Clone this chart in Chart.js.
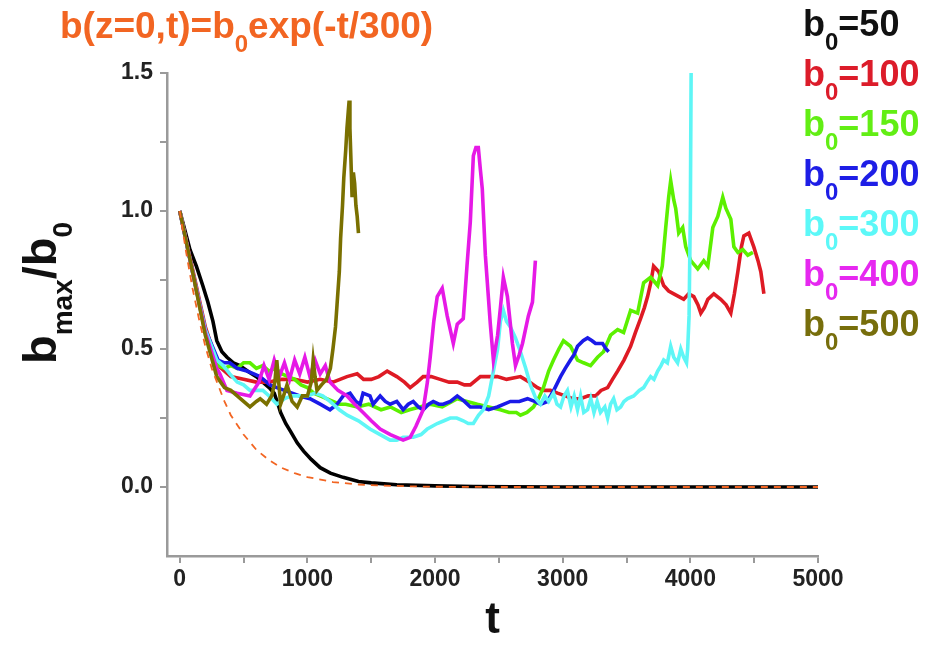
<!DOCTYPE html>
<html><head><meta charset="utf-8">
<script src="https://cdn.jsdelivr.net/npm/chart.js@4/dist/chart.umd.min.js"></script>
<style>html,body{margin:0;padding:0;background:#fff;}canvas{display:block}</style>
</head><body>
<canvas id="c" width="937" height="653"></canvas>
<script>
// ---- data ----
const legendValues = ['50','100','150','200','300','400','500'];
const xTickMarks = [0,500,1000,1500,2000,2500,3000,3500,4000,4500,5000];
const xTickLabels = [0,1000,2000,3000,4000,5000];
const yTickMarks = [0,0.25,0.5,0.75,1.0,1.25,1.5];
const yTickLabels = [0.0,0.5,1.0,1.5];

const ref_t = [0,50,100,150,200,250,300,350,400,500,600,700,800,900,1000,1200,1400,1600,1800,2000,2500,3000,4000,5000];
const ref_v = [1.0,0.85,0.72,0.61,0.51,0.43,0.37,0.31,0.26,0.19,0.135,0.097,0.069,0.05,0.036,0.018,0.009,0.005,0.0025,0.001,0,0,0,0];

const b50_t = [0,40,80,130,180,220,260,290,330,370,420,470,530,600,650,700,740,770,790,830,870,920,970,1030,1100,1180,1280,1400,1500,1700,2000,2300,2600,3000,4000,5000];
const b50_v = [1.0,0.93,0.86,0.80,0.73,0.67,0.60,0.53,0.49,0.47,0.45,0.44,0.42,0.40,0.38,0.36,0.34,0.30,0.27,0.23,0.20,0.16,0.13,0.10,0.07,0.05,0.035,0.02,0.015,0.008,0.004,0.002,0.001,0,0,0];

const b100_t = [0,100,200,300,400,500,600,700,800,900,1000,1100,1200,1310,1390,1440,1500,1560,1625,1700,1760,1805,1860,1907,1970,2040,2110,2174,2230,2276,2355,2420,2488,2560,2669,2740,2802,2850,2904,2960,3020,3080,3140,3200,3257,3300,3352,3390,3430,3480,3532,3570,3610,3640,3665,3690,3712,3752,3791,3830,3870,3910,3948,3987,4027,4060,4082,4110,4137,4184,4238,4280,4317,4345,4372,4400,4419,4458,4497,4530,4552,4576];
const b100_v = [1.0,0.79,0.58,0.44,0.40,0.39,0.38,0.38,0.39,0.39,0.38,0.39,0.38,0.40,0.41,0.39,0.39,0.40,0.42,0.40,0.38,0.36,0.38,0.40,0.40,0.39,0.38,0.38,0.37,0.37,0.40,0.40,0.40,0.39,0.40,0.38,0.36,0.35,0.35,0.34,0.33,0.32,0.32,0.33,0.33,0.35,0.36,0.39,0.42,0.46,0.51,0.56,0.61,0.65,0.69,0.74,0.80,0.78,0.73,0.71,0.70,0.69,0.68,0.70,0.69,0.66,0.63,0.65,0.68,0.70,0.68,0.66,0.63,0.70,0.78,0.87,0.91,0.92,0.87,0.82,0.78,0.70];

const b150_t = [0,100,200,300,350,400,450,500,550,600,650,700,750,800,850,900,950,1000,1050,1100,1150,1200,1250,1300,1390,1480,1577,1650,1735,1800,1880,1962,2056,2174,2250,2331,2420,2512,2580,2637,2669,2720,2771,2810,2849,2890,2928,2970,3006,3061,3116,3163,3218,3273,3320,3375,3430,3477,3532,3587,3634,3689,3744,3780,3807,3830,3846,3870,3885,3909,3940,3964,4003,4058,4105,4137,4176,4215,4254,4278,4317,4341,4372,4411,4450,4490];
const b150_v = [1.0,0.78,0.56,0.44,0.43,0.44,0.43,0.45,0.45,0.43,0.44,0.42,0.43,0.41,0.40,0.39,0.37,0.36,0.34,0.33,0.32,0.31,0.30,0.30,0.29,0.30,0.28,0.29,0.27,0.28,0.29,0.30,0.29,0.32,0.31,0.30,0.29,0.28,0.27,0.27,0.26,0.27,0.29,0.32,0.36,0.42,0.46,0.50,0.53,0.51,0.46,0.45,0.44,0.47,0.49,0.55,0.57,0.56,0.64,0.63,0.74,0.76,0.73,0.80,0.94,1.05,1.11,1.04,1.01,0.92,0.94,0.87,0.82,0.79,0.82,0.80,0.94,0.98,1.05,1.01,0.97,0.87,0.85,0.86,0.84,0.85];

const b200_t = [0,100,200,300,350,392,450,526,580,628,706,760,820,880,940,1020,1100,1177,1232,1280,1334,1380,1413,1436,1490,1515,1570,1610,1648,1700,1750,1790,1829,1870,1907,1950,1986,2030,2064,2120,2174,2230,2276,2355,2420,2488,2540,2590,2660,2724,2780,2826,2880,2930,2983,3020,3061,3090,3116,3160,3195,3230,3257,3290,3312,3340,3360];
const b200_v = [1.0,0.78,0.57,0.46,0.45,0.45,0.43,0.42,0.41,0.40,0.37,0.36,0.35,0.34,0.33,0.32,0.30,0.28,0.30,0.33,0.34,0.31,0.30,0.34,0.33,0.30,0.33,0.31,0.30,0.31,0.28,0.30,0.31,0.29,0.28,0.30,0.31,0.30,0.30,0.31,0.33,0.31,0.29,0.29,0.28,0.29,0.30,0.31,0.31,0.32,0.31,0.30,0.31,0.35,0.40,0.43,0.46,0.48,0.51,0.53,0.54,0.53,0.52,0.52,0.52,0.50,0.49];

const b300_t = [0,100,200,290,340,392,450,500,550,600,651,700,761,820,880,940,1000,1060,1120,1177,1250,1311,1400,1490,1570,1648,1700,1750,1829,1890,1939,2017,2070,2119,2170,2221,2260,2300,2340,2378,2420,2457,2490,2512,2535,2560,2590,2630,2669,2710,2747,2790,2826,2860,2890,2928,2955,2983,3010,3037,3065,3090,3116,3140,3165,3195,3220,3245,3270,3296,3330,3352,3375,3399,3425,3454,3480,3509,3556,3600,3634,3660,3689,3715,3744,3770,3791,3820,3846,3870,3900,3925,3948,3970,3979,3990,4000,4006];
const b300_v = [1.0,0.78,0.57,0.46,0.44,0.41,0.38,0.37,0.35,0.35,0.35,0.33,0.30,0.32,0.33,0.33,0.33,0.34,0.33,0.31,0.28,0.26,0.24,0.21,0.19,0.17,0.17,0.18,0.18,0.19,0.21,0.23,0.24,0.25,0.25,0.24,0.23,0.23,0.26,0.28,0.33,0.42,0.50,0.60,0.64,0.60,0.58,0.54,0.49,0.43,0.37,0.32,0.30,0.33,0.31,0.34,0.30,0.29,0.33,0.35,0.29,0.33,0.28,0.33,0.27,0.28,0.32,0.27,0.31,0.27,0.29,0.25,0.30,0.32,0.28,0.29,0.31,0.32,0.33,0.35,0.36,0.38,0.40,0.39,0.42,0.44,0.46,0.45,0.51,0.47,0.45,0.50,0.47,0.45,0.50,0.62,1.0,1.5];

const b400_t = [0,100,200,290,314,370,450,550,620,660,700,740,780,820,860,900,940,980,1020,1060,1100,1140,1177,1240,1311,1370,1436,1500,1570,1650,1700,1750,1805,1850,1907,1940,1962,1990,2017,2056,2095,2143,2174,2221,2250,2276,2300,2320,2339,2355,2370,2394,2433,2457,2490,2512,2535,2567,2606,2630,2660,2685,2731,2763,2786];
const b400_v = [1.0,0.78,0.56,0.43,0.41,0.35,0.34,0.33,0.38,0.44,0.39,0.46,0.40,0.45,0.39,0.46,0.41,0.47,0.40,0.46,0.41,0.44,0.38,0.35,0.33,0.30,0.27,0.24,0.21,0.19,0.18,0.17,0.18,0.22,0.28,0.38,0.47,0.60,0.69,0.72,0.62,0.52,0.59,0.61,0.80,0.96,1.20,1.23,1.23,1.15,1.08,0.84,0.59,0.46,0.55,0.65,0.76,0.69,0.52,0.44,0.48,0.52,0.62,0.67,0.82];

const b500_t = [0,100,200,290,350,400,450,500,550,600,630,680,720,745,760,775,790,820,840,880,920,960,1000,1030,1045,1060,1075,1110,1150,1180,1200,1220,1232,1250,1260,1275,1285,1300,1310,1320,1327,1333,1340,1350,1360,1370,1380,1390,1400];
const b500_v = [1.0,0.78,0.55,0.40,0.36,0.35,0.33,0.31,0.29,0.31,0.32,0.30,0.33,0.38,0.46,0.38,0.30,0.34,0.37,0.31,0.29,0.33,0.33,0.38,0.46,0.40,0.35,0.37,0.39,0.43,0.50,0.58,0.66,0.78,0.90,1.02,1.12,1.22,1.30,1.36,1.40,1.30,1.20,1.05,1.14,1.10,1.02,0.98,0.92];

// ---- styling ----
const FONT = "'Liberation Sans', Arial, Helvetica, sans-serif";
const seriesColors = ['#000000','#de1a24','#5cf000','#1a1ae8','#5ef6f6','#e619e6','#7a7000'];
const textColors   = ['#111111','#dc1c2a','#62ee14','#1e1ee6','#5cf8f8','#e628f0','#776e0c'];
const refColor = '#f26522';

function pts(t, v) { return t.map((x, i) => ({x: x, y: v[i]})); }

const seriesT = [b50_t, b100_t, b150_t, b200_t, b300_t, b400_t, b500_t];
const seriesV = [b50_v, b100_v, b150_v, b200_v, b300_v, b400_v, b500_v];
const drawOrder = [7, 6, 5, 4, 3, 2, 1];

const datasets = seriesT.map((t, i) => ({
  label: 'b0=' + legendValues[i],
  data: pts(t, seriesV[i]),
  borderColor: seriesColors[i],
  borderWidth: 3.6,
  pointRadius: 0,
  tension: 0,
  fill: false,
  order: drawOrder[i]
}));
datasets.push({
  label: 'ref',
  data: pts(ref_t, ref_v),
  borderColor: refColor,
  borderWidth: 1.8,
  borderDash: [7, 6],
  pointRadius: 0,
  tension: 0,
  fill: false,
  order: 0
});

function drawRich(ctx, parts, x, y, align) {
  let w = 0;
  parts.forEach(p => { ctx.font = 'bold ' + p.size + 'px ' + FONT; w += ctx.measureText(p.text).width; });
  let cx = align === 'center' ? x - w / 2 : x;
  ctx.textBaseline = 'alphabetic';
  ctx.textAlign = 'left';
  parts.forEach(p => {
    ctx.font = 'bold ' + p.size + 'px ' + FONT;
    ctx.fillText(p.text, cx, y + (p.dy || 0));
    cx += ctx.measureText(p.text).width;
  });
}

const textPlugin = {
  id: 'texts',
  afterDraw(chart) {
    const ctx = chart.ctx;
    ctx.save();
    // title formula
    ctx.fillStyle = refColor;
    drawRich(ctx, [
      {text: 'b(z=0,t)=b', size: 37},
      {text: '0', size: 24, dy: 14},
      {text: 'exp(-t/300)', size: 37}
    ], 60, 38, 'left');
    // legend
    legendValues.forEach((val, i) => {
      ctx.fillStyle = textColors[i];
      drawRich(ctx, [
        {text: 'b', size: 36},
        {text: '0', size: 24, dy: 14},
        {text: '=' + val, size: 36}
      ], 803, 36 + 50 * i, 'left');
    });
    // y axis title
    ctx.fillStyle = '#111';
    ctx.translate(56, 293);
    ctx.rotate(-Math.PI / 2);
    drawRich(ctx, [
      {text: 'b', size: 47},
      {text: 'max', size: 28, dy: 16},
      {text: '/b', size: 47},
      {text: '0', size: 28, dy: 16}
    ], 0, 0, 'center');
    ctx.restore();
  }
};

const axisGray = '#9a9a9a';
new Chart(document.getElementById('c'), {
  type: 'line',
  data: { datasets: datasets },
  options: {
    responsive: false,
    animation: false,
    devicePixelRatio: 1,
    layout: { padding: { top: 73, right: 119, left: 0, bottom: 0 } },
    plugins: { legend: { display: false }, tooltip: { enabled: false }, title: { display: false } },
    scales: {
      x: {
        type: 'linear',
        min: -100, max: 5000,
        afterFit(scale) { scale.height = 97; },
        afterBuildTicks(scale) {
          scale.ticks = xTickMarks.map(v => ({ value: v }));
        },
        ticks: {
          autoSkip: false, maxRotation: 0, minRotation: 0, padding: 3,
          color: '#222',
          font: { family: FONT, size: 23, weight: 'bold' },
          callback: (v) => xTickLabels.includes(v) ? String(v) : ''
        },
        grid: { drawOnChartArea: false, drawTicks: true, tickLength: 7, color: axisGray, lineWidth: 2 },
        border: { display: true, color: axisGray, width: 2.5 },
        title: { display: true, text: 't', color: '#111', font: { family: FONT, size: 44, weight: 'bold' }, padding: { top: 0, bottom: 6 } }
      },
      y: {
        type: 'linear',
        min: -0.25, max: 1.5,
        afterFit(scale) { scale.width = 167; },
        afterBuildTicks(scale) {
          scale.ticks = yTickMarks.map(v => ({ value: v }));
        },
        ticks: {
          autoSkip: false, padding: 7,
          color: '#222',
          font: { family: FONT, size: 23, weight: 'bold' },
          callback: (v) => yTickLabels.some(y => Math.abs(y - v) < 1e-9) ? v.toFixed(1) : ''
        },
        grid: { drawOnChartArea: false, drawTicks: true, tickLength: 7, color: axisGray, lineWidth: 2 },
        border: { display: true, color: axisGray, width: 2.5 },
        title: { display: false }
      }
    }
  },
  plugins: [textPlugin]
});
</script>
</body></html>
